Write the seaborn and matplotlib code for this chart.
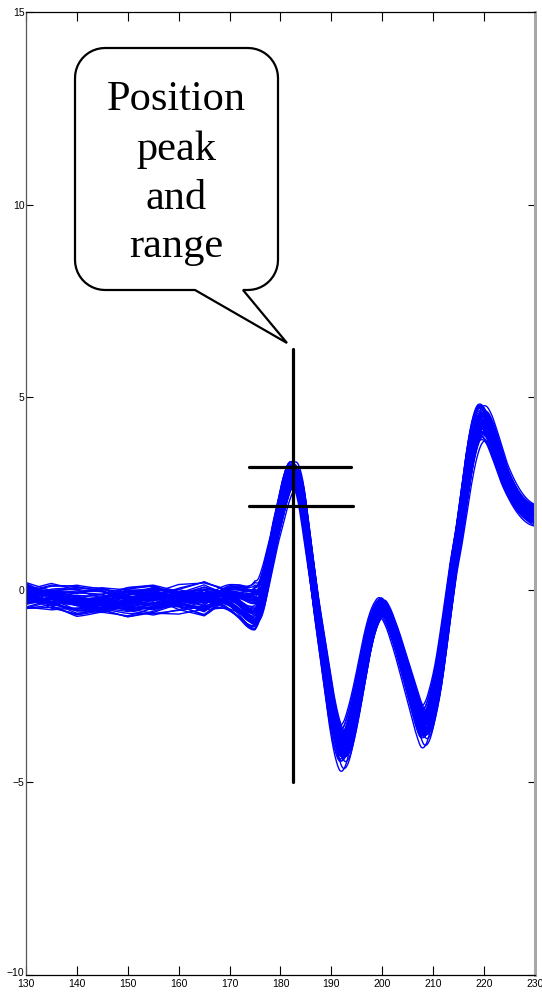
import numpy as np
import pandas as pd
import matplotlib
matplotlib.use("Agg")
import matplotlib.pyplot as plt
import matplotlib.transforms as mtransforms
from matplotlib.path import Path
from matplotlib.patches import PathPatch
import seaborn as sns

# ---- mean waveform (time sample, amplitude) ----
tmpl_x = [130, 135, 140, 145, 150, 155, 160, 165, 170, 172, 174, 175, 176,
          177, 178, 179, 180, 181, 182, 183, 184, 185, 186, 187, 188, 189,
          190, 191, 192, 193, 194, 195, 196, 197, 198, 199, 200, 201, 202,
          203, 204, 205, 206, 207, 208, 209, 210, 211, 212, 213, 214, 215,
          216, 217, 218, 219, 220, 221, 222, 223, 224, 225, 226, 227, 228,
          229, 230]
tmpl_y = [-0.15, -0.20, -0.30, -0.30, -0.30, -0.25, -0.25, -0.25, -0.20,
          -0.30, -0.45, -0.45, -0.30, 0.20, 0.85, 1.50, 2.05, 2.60, 2.95,
          2.95, 2.50, 1.60, 0.60, -0.40, -1.30, -2.20, -3.05, -3.70, -4.05,
          -3.95, -3.50, -2.90, -2.20, -1.50, -0.95, -0.60, -0.45, -0.65,
          -1.00, -1.40, -1.85, -2.30, -2.75, -3.20, -3.50, -3.40, -2.95,
          -2.30, -1.40, -0.40, 0.60, 1.40, 2.30, 3.20, 3.90, 4.30, 4.35,
          4.15, 3.80, 3.40, 3.00, 2.70, 2.45, 2.25, 2.10, 2.00, 1.95]

# ---- slow baseline wander shapes (pre-stimulus part only) ----
wander_x = [130, 135, 140, 145, 150, 155, 160, 165, 170, 175, 178, 230]
wander_a = [0.10, 0.05, -0.10, -0.15, 0.00, 0.15, 0.10, -0.05, 0.10, 0.20, 0.0, 0.0]
wander_b = [-0.05, 0.12, 0.10, -0.05, -0.15, -0.05, 0.12, 0.18, -0.05, -0.25, 0.0, 0.0]

# ---- per-sweep parameters ----
gain = [1.00, 0.95, 1.06, 0.98, 1.03, 0.92, 1.08, 0.97, 1.01, 0.94,
        1.05, 0.99, 0.96, 1.10, 1.02, 0.93, 1.04, 0.98, 1.07, 0.95,
        1.00, 1.03, 0.91, 0.97, 1.06, 1.01, 0.96, 1.09, 0.99, 1.02,
        0.94, 1.05, 0.98, 1.00, 1.04, 0.93, 1.07, 0.97, 1.02, 0.99,
        1.08, 0.94, 1.01, 0.96, 1.05, 0.92, 1.03, 0.99, 1.10, 0.95,
        1.02, 0.97, 1.06, 0.93, 1.00, 1.04, 0.98, 1.09, 0.96, 1.01]
offset = [0.05, -0.10, 0.12, -0.02, 0.18, -0.15, 0.00, 0.08, -0.20, 0.15,
          -0.05, 0.10, -0.12, 0.02, 0.20, -0.08, 0.06, -0.18, 0.12, -0.03,
          0.22, -0.12, 0.04, 0.14, -0.06, -0.22, 0.09, -0.01, 0.16, -0.14,
          0.03, -0.09, 0.19, -0.04, 0.07, -0.16, 0.11, 0.01, -0.11, 0.13,
          -0.07, 0.17, -0.19, 0.08, -0.02, 0.21, -0.13, 0.05, -0.24, 0.11,
          0.00, -0.17, 0.14, -0.06, 0.24, -0.10, 0.07, -0.21, 0.18, -0.01]
shift = [0.0, 0.4, -0.4, 0.2, -0.2, 0.6, -0.55, 0.3, -0.1, 0.5,
         -0.3, 0.1, 0.45, -0.5, 0.15, -0.25, 0.55, 0.0, -0.45, 0.3,
         -0.1, 0.2, -0.6, 0.4, 0.05, -0.3, 0.5, -0.2, 0.1, 0.6,
         -0.5, 0.25, 0.0, -0.4, 0.3, -0.1, 0.45, -0.25, 0.1, -0.55,
         0.55, -0.55, 0.5, -0.45, 0.6, -0.6, 0.0, 0.35, -0.3, 0.5,
         -0.4, 0.15, -0.5, 0.4, -0.15, 0.6, -0.6, 0.25, -0.35, 0.45]
mix_a = [1.0, -0.5, 0.3, -1.2, 0.8, 0.0, -0.8, 1.4, -0.3, 0.6,
         -1.0, 0.5, 1.2, -0.2, -0.7, 0.9, 0.2, -1.4, 0.4, 1.1,
         -0.6, 0.0, 0.7, -0.9, 1.3, -0.4, 0.1, 0.8, -1.1, 0.5,
         1.5, -0.3, -0.8, 0.6, 0.0, 1.0, -1.3, 0.3, 0.9, -0.5,
         0.7, -1.2, 0.2, 1.1, -0.4, -0.9, 1.3, 0.0, -0.6, 0.8,
         -1.5, 0.4, 1.0, -0.2, 0.6, -0.8, 1.2, -1.0, 0.3, -0.1]
mix_b = [0.2, 1.0, -0.8, 0.5, -1.2, 0.9, 0.3, -0.4, 1.3, -0.7,
         0.6, -1.0, 0.0, 1.4, -0.3, -0.9, 0.8, 0.4, -1.3, 0.1,
         1.1, -0.6, -0.2, 0.7, -1.0, 1.2, -0.5, 0.3, 0.9, -1.4,
         0.0, 0.8, -0.7, 1.0, -0.2, -1.1, 0.5, 1.3, -0.4, 0.6,
         -0.9, 0.4, 1.2, -0.6, 0.0, 1.0, -1.2, 0.7, 0.3, -0.5,
         0.9, -0.2, -1.3, 1.1, -0.8, 0.2, 0.5, -0.4, 1.4, -1.0]

# ---- annotation values ----
peak_pos = 182.4
marker_span = (-5.0, 6.25)
range_levels = [3.19, 2.18]
range_x = [(173.8, 193.8), (173.8, 194.2)]
callout_lines = ["Position", "peak", "and", "range"]

x_ticks = list(range(130, 231, 10))
y_ticks = [-10, -5, 0, 5, 10, 15]


def hermite(xk, yk, xs):
    xk = np.asarray(xk, float)
    yk = np.asarray(yk, float)
    m = np.gradient(yk, xk)
    i = np.clip(np.searchsorted(xk, xs) - 1, 0, len(xk) - 2)
    h = xk[i + 1] - xk[i]
    t = np.clip((xs - xk[i]) / h, 0, 1)
    h00 = 2 * t**3 - 3 * t**2 + 1
    h10 = t**3 - 2 * t**2 + t
    h01 = -2 * t**3 + 3 * t**2
    h11 = t**3 - t**2
    return h00 * yk[i] + h10 * h * m[i] + h01 * yk[i + 1] + h11 * h * m[i + 1]


xs = np.linspace(130, 230, 801)
wa = np.interp(xs, wander_x, wander_a)
wb = np.interp(xs, wander_x, wander_b)
frames = []
for k in range(len(gain)):
    y = (gain[k] * hermite(tmpl_x, tmpl_y, np.clip(xs - shift[k], 130, 230))
         + offset[k] + mix_a[k] * wa + mix_b[k] * wb)
    frames.append(pd.DataFrame({"t": xs, "v": y, "sweep": k}))
df = pd.concat(frames, ignore_index=True)

sns.set_style("ticks")
plt.rcParams["font.family"] = ["Liberation Sans Narrow", "Liberation Sans", "DejaVu Sans"]
plt.rcParams["text.color"] = "black"

W, H = 542, 994
fig = plt.figure(figsize=(W / 100, H / 100), dpi=100)
ax = fig.add_axes([26 / W, 19 / H, 509 / W, 963 / H])

sns.lineplot(data=df, x="t", y="v", units="sweep", estimator=None,
             color="#0000ff", lw=1.0, ax=ax, legend=False)

ax.set_xlim(130, 230)
ax.set_ylim(-10, 15)
ax.set_xticks(x_ticks)
ax.set_yticks(y_ticks)
ax.set_xlabel("")
ax.set_ylabel("")
ax.tick_params(direction="in", width=0.8, top=True, right=True,
               labelsize=7.5, colors="black")
ax.tick_params(axis="x", length=6.5, pad=3)
ax.tick_params(axis="y", length=5, pad=1)
for side in ["top", "bottom", "left"]:
    ax.spines[side].set_color("black")
    ax.spines[side].set_linewidth(0.9)
ax.spines["left"].set_color("#555555")
ax.spines["right"].set_color("#a8a8a8")
ax.spines["right"].set_linewidth(2.2)

# lift the lowest y label a little so it clears the first x label
fig.canvas.draw()
low_label = ax.get_yticklabels()[0]
low_label.set_transform(low_label.get_transform()
                        + mtransforms.ScaledTranslation(0, 2 / 72, fig.dpi_scale_trans))

# peak marker and range bars
ax.plot([peak_pos, peak_pos], marker_span, color="black", lw=2.3, zorder=5)
for lvl, (x0, x1) in zip(range_levels, range_x):
    ax.plot([x0, x1], [lvl, lvl], color="black", lw=2.3, zorder=5)

# speech-bubble callout (pixel geometry -> figure fraction)
L, R, T, B, r = 75, 278, 48, 290, 30
tail_l, tail_r, tip = 195, 243, (287, 343)
pts = []


def arc(cx, cy, a0, a1, n=12):
    for a in np.linspace(np.radians(a0), np.radians(a1), n):
        pts.append((cx + r * np.cos(a), cy + r * np.sin(a)))


pts.append((L + r, T))
pts.append((R - r, T))
arc(R - r, T + r, -90, 0)
pts.append((R, B - r))
arc(R - r, B - r, 0, 90)
pts.append((tail_r, B))
pts.append(tip)
pts.append((tail_l, B))
pts.append((L + r, B))
arc(L + r, B - r, 90, 180)
pts.append((L, T + r))
arc(L + r, T + r, 180, 270)
pts.append((L + r, T))
verts = [(px / W, 1 - py / H) for px, py in pts]
codes = [Path.MOVETO] + [Path.LINETO] * (len(verts) - 2) + [Path.CLOSEPOLY]
bubble = PathPatch(Path(verts, codes), transform=fig.transFigure,
                   facecolor="white", edgecolor="black", lw=1.6, zorder=10,
                   joinstyle="miter")
fig.patches.append(bubble)

baselines = [110, 160, 209, 257]
for line, by in zip(callout_lines, baselines):
    fig.text(176 / W, 1 - by / H, line, ha="center", va="baseline",
             fontsize=30.5, color="black",
             family=["Liberation Serif", "DejaVu Serif"], zorder=11)

fig.savefig("out.png", dpi=100)
